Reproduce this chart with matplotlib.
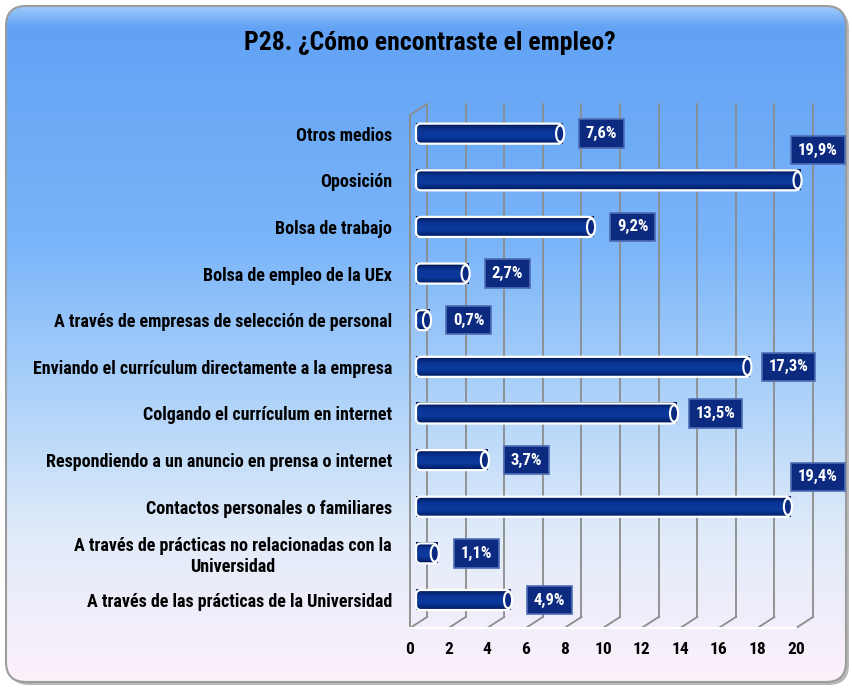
import numpy as np
import matplotlib
matplotlib.use("Agg")
import matplotlib.pyplot as plt
from matplotlib.patches import FancyBboxPatch, Ellipse
from matplotlib.colors import LinearSegmentedColormap
from matplotlib.transforms import offset_copy

plt.rcParams['font.family'] = ['Roboto Condensed', 'Liberation Sans', 'DejaVu Sans']
plt.rcParams['font.weight'] = 'bold'

# donnees (de haut en bas comme sur le graphique)
categorias = [
    "Otros medios",
    "Oposición",
    "Bolsa de trabajo",
    "Bolsa de empleo de la UEx",
    "A través de empresas de selección de personal",
    "Enviando el currículum directamente a la empresa",
    "Colgando el currículum en internet",
    "Respondiendo a un anuncio en prensa o internet",
    "Contactos personales o familiares",
    "A través de prácticas no relacionadas con la\nUniversidad",
    "A través de las prácticas de la Universidad",
]
valores = [7.6, 19.9, 9.2, 2.7, 0.7, 17.3, 13.5, 3.7, 19.4, 1.1, 4.9]
ticks_x = [0, 2, 4, 6, 8, 10, 12, 14, 16, 18, 20]
titulo = "P28. ¿Cómo encontraste el empleo?"

W, H = 853, 689
fig = plt.figure(figsize=(W / 100, H / 100), dpi=100, facecolor="white")

# fond arrondi avec degrade
ax_bg = fig.add_axes([0, 0, 1, 1], zorder=-5)
ax_bg.set_xlim(0, W)
ax_bg.set_ylim(H, 0)
ax_bg.axis("off")
shadow = FancyBboxPatch((9, 9), 840, 676, boxstyle="round,pad=0,rounding_size=20",
                        fc="#8a8a8a", ec="none", alpha=0.6)
ax_bg.add_patch(shadow)
cadre = FancyBboxPatch((6, 6), 840, 676, boxstyle="round,pad=0,rounding_size=20",
                       fc="none", ec="#9c9c9c", lw=1.5, zorder=3)
ax_bg.add_patch(cadre)
cmap_bg = LinearSegmentedColormap.from_list(
    "bg", [(0.0, "#9cc8fa"), (0.03, "#62a2f5"), (0.35, "#7ab5f9"),
           (0.6, "#b3d5fa"), (0.78, "#e0ebf9"), (1.0, "#fdf0fb")])
grad = np.linspace(0, 1, 256).reshape(-1, 1)
img = ax_bg.imshow(grad, cmap=cmap_bg, extent=[6, 846, 682, 6], aspect="auto", zorder=2)
clip = FancyBboxPatch((6, 6), 840, 676, boxstyle="round,pad=0,rounding_size=20",
                      fc="none", ec="none", transform=ax_bg.transData)
img.set_clip_path(clip)

# axes principal
px_x = 19.3  # pixels par unite
ax = fig.add_axes([410 / W, 61 / H, 21 * px_x / W, 513 / H])
ax.set_xlim(0, 21)
ax.set_ylim(-0.6, 10.4)
ax.patch.set_alpha(0)
for s in ax.spines.values():
    s.set_visible(False)

n = len(categorias)
ys = [n - 1 - i for i in range(n)]

# murs / grille en pseudo 3D
t_back = offset_copy(ax.transData, fig=fig, x=17, y=11, units="dots")
gris = "#8c8c8c"
for v in ticks_x:
    ax.plot([v, v], [-0.6, 10.4], color=gris, lw=1.3, transform=t_back, zorder=1, clip_on=False)
    ax.plot([v, v + 17 / px_x], [-0.6, -0.6 + 11 / 46.6], color=gris, lw=1.3, zorder=1, clip_on=False)
ax.plot([0, 0], [-0.6, 10.4], color=gris, lw=1.3, zorder=1, clip_on=False)
ax.plot([0, 17 / px_x], [10.4, 10.4 + 11 / 46.6], color=gris, lw=1.3, zorder=1, clip_on=False)
ax.plot([0, 20], [-0.6, -0.6], color="white", lw=1.5, zorder=1, clip_on=False)

# barres cylindriques
t_bar = offset_copy(ax.transData, fig=fig, x=6, y=0, units="dots")
cmap_bar = LinearSegmentedColormap.from_list("bar", ["#001650", "#0a3596", "#0b3a9e", "#001a5e"])
h = 0.43
asp = px_x / 46.6
for y, v in zip(ys, valores):
    p = FancyBboxPatch((0, y - h / 2), v, h,
                       boxstyle="round,pad=0,rounding_size=0.26", mutation_aspect=asp,
                       fc="none", ec="white", lw=1.6, transform=t_bar, zorder=4, clip_on=False)
    ax.add_patch(p)
    im = ax.imshow(np.linspace(0, 1, 64).reshape(-1, 1), cmap=cmap_bar,
                   extent=[0, v, y - h / 2, y + h / 2], aspect="auto",
                   transform=t_bar, zorder=3, clip_on=False)
    im.set_clip_path(p)
    cap = Ellipse((v - 0.13, y), 0.42, h * 0.82, fc="#0a2a80", ec="white", lw=1.5,
                  transform=t_bar, zorder=5, clip_on=False)
    ax.add_patch(cap)

    txt = f"{v:.1f}".replace(".", ",") + "%"
    if v > 19:
        xy, off = (20, y), (22, 30)
    else:
        xy, off = (v, y), (45, 0)
    ax.annotate(txt, xy=xy, xytext=off, textcoords="offset pixels",
                ha="center", va="center", color="white", fontsize=12, fontweight="bold",
                bbox=dict(boxstyle="square,pad=0.4", fc="#0c2b80", ec="#4d6cb4", lw=1.2),
                zorder=6, annotation_clip=False)

ax.set_yticks(ys)
ax.set_yticklabels(categorias, fontsize=13, fontweight="bold")
for lab in ax.get_yticklabels():
    lab.set_multialignment("center")
ax.set_xticks(ticks_x)
ax.set_xticklabels([str(t) for t in ticks_x], fontsize=12.5, fontweight="bold")
ax.tick_params(axis="y", length=0, pad=13)
ax.tick_params(axis="x", length=0, pad=10)

fig.text(430 / W, 1 - 43 / H, titulo, ha="center", va="center", fontsize=18.5, fontweight="bold")

fig.savefig("out.png", dpi=100, facecolor="white")
